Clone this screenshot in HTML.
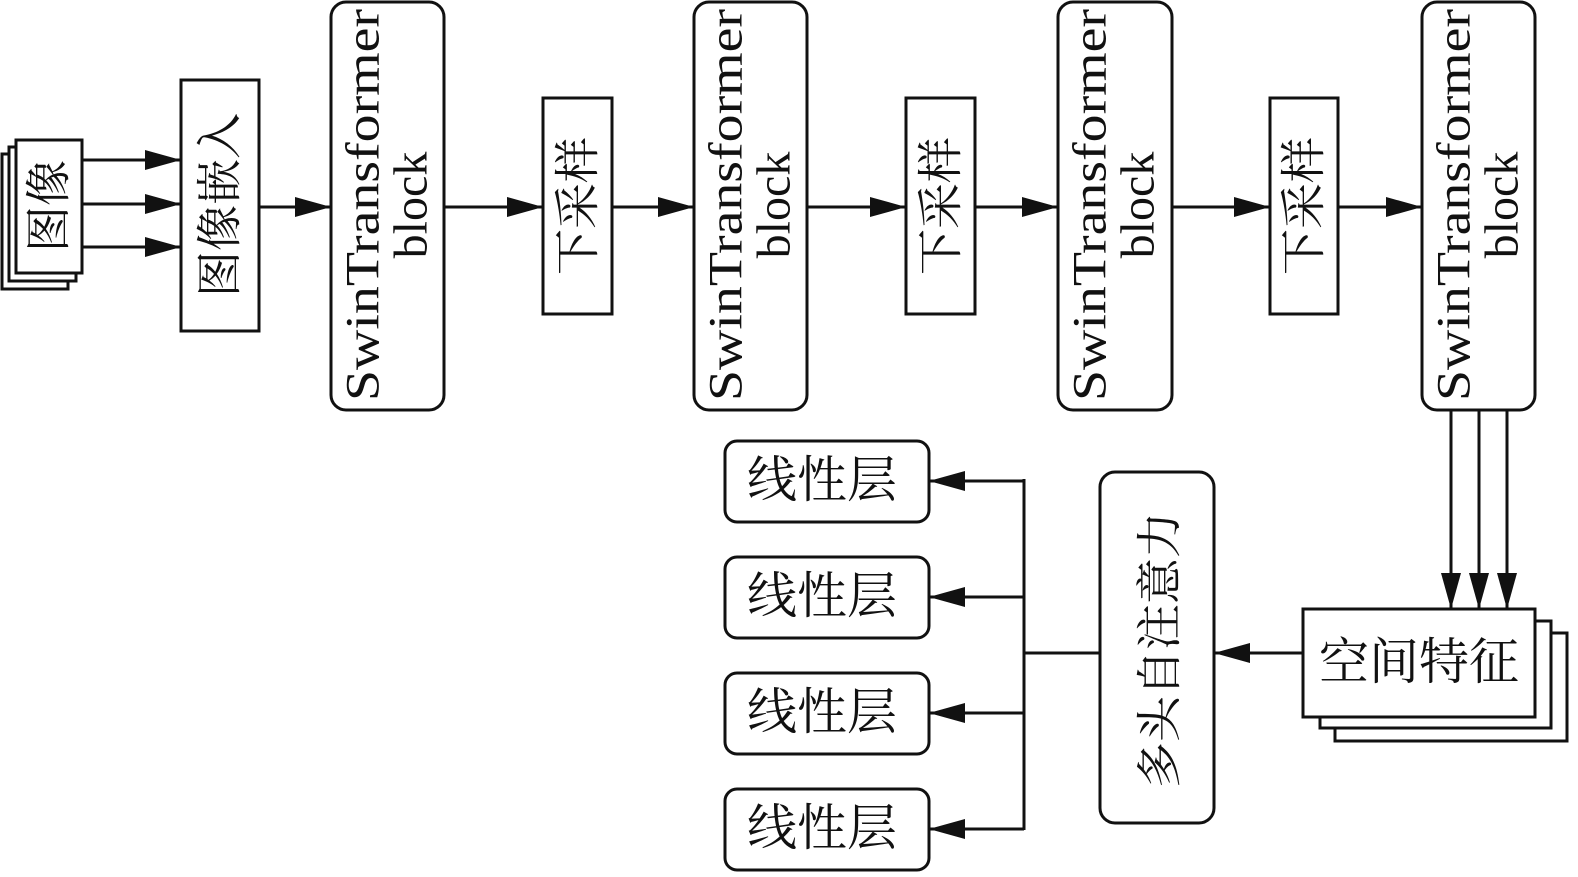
<!DOCTYPE html>
<html><head><meta charset="utf-8"><style>
html,body{margin:0;padding:0;background:#fff;}
svg{display:block;}
text{font-family:"Liberation Serif","Noto Serif CJK SC",serif;fill:#111;}
</style></head><body>
<svg width="1578" height="877" viewBox="0 0 1578 877" xmlns="http://www.w3.org/2000/svg">
<defs>
<marker id="a" markerWidth="36" markerHeight="20" refX="36" refY="10" orient="auto" markerUnits="userSpaceOnUse">
<path d="M0,0 L36,10 L0,20 Z" fill="#111"/>
</marker>
</defs>
<g stroke="#111" stroke-width="3" fill="#fff">
<!-- image stack -->
<rect x="2" y="154" width="66" height="135"/>
<rect x="9" y="147" width="67" height="134"/>
<rect x="16" y="140" width="66" height="133"/>
<!-- embed -->
<rect x="181" y="80" width="78" height="251"/>
<!-- swin blocks -->
<rect x="331" y="2" width="113" height="408" rx="15"/>
<rect x="694" y="2" width="113" height="408" rx="15"/>
<rect x="1058" y="2" width="114" height="408" rx="15"/>
<rect x="1422" y="2" width="113" height="408" rx="15"/>
<!-- downsample -->
<rect x="543" y="98" width="69" height="216"/>
<rect x="906" y="98" width="69" height="216"/>
<rect x="1270" y="98" width="68" height="216"/>
<!-- spatial -->
<rect x="1335" y="633" width="232" height="108"/>
<rect x="1320" y="621" width="231" height="107"/>
<rect x="1303" y="609" width="232" height="108"/>
<!-- attention -->
<rect x="1100" y="472" width="114" height="351" rx="15"/>
<!-- linear -->
<rect x="725" y="441" width="204" height="81" rx="12"/>
<rect x="725" y="557" width="204" height="81" rx="12"/>
<rect x="725" y="673" width="204" height="81" rx="12"/>
<rect x="725" y="789" width="204" height="81" rx="12"/>
</g>
<g stroke="#111" stroke-width="3" fill="none" marker-end="url(#a)">
<line x1="82" y1="160" x2="181" y2="160"/>
<line x1="82" y1="204" x2="181" y2="204"/>
<line x1="82" y1="247" x2="181" y2="247"/>
<line x1="259" y1="207" x2="331" y2="207"/>
<line x1="444" y1="207" x2="543" y2="207"/>
<line x1="612" y1="207" x2="694" y2="207"/>
<line x1="807" y1="207" x2="906" y2="207"/>
<line x1="975" y1="207" x2="1058" y2="207"/>
<line x1="1172" y1="207" x2="1270" y2="207"/>
<line x1="1338" y1="207" x2="1422" y2="207"/>
<line x1="1451" y1="410" x2="1451" y2="609"/>
<line x1="1479" y1="410" x2="1479" y2="609"/>
<line x1="1507" y1="410" x2="1507" y2="609"/>
<line x1="1303" y1="653" x2="1214" y2="653"/>
<line x1="1024" y1="481" x2="929" y2="481"/>
<line x1="1024" y1="597" x2="929" y2="597"/>
<line x1="1024" y1="713" x2="929" y2="713"/>
<line x1="1024" y1="829" x2="929" y2="829"/>
</g>
<g stroke="#111" stroke-width="3">
<line x1="1024" y1="479" x2="1024" y2="830"/>
<line x1="1024" y1="653" x2="1100" y2="653"/>
</g>
<g font-size="46" text-anchor="middle" dominant-baseline="central">
<text transform="translate(49,206) rotate(-90)">图像</text>
<text transform="translate(220,205) rotate(-90)">图像嵌入</text>
<text transform="translate(578,206) rotate(-90)">下采样</text>
<text transform="translate(941,206) rotate(-90)">下采样</text>
<text transform="translate(1304,206) rotate(-90)">下采样</text>
<text transform="translate(1160,650) rotate(-90)">多头自注意力</text>
<text x="1419" y="662" font-size="50">空间特征</text>
<text x="822" y="480" font-size="50">线性层</text>
<text x="822" y="596" font-size="50">线性层</text>
<text x="822" y="712" font-size="50">线性层</text>
<text x="822" y="828" font-size="50">线性层</text>
</g>
<g font-size="48" text-anchor="middle" dominant-baseline="central">
<text transform="translate(363,205) rotate(-90)" textLength="392" lengthAdjust="spacingAndGlyphs">SwinTransformer</text>
<text transform="translate(411,205) rotate(-90)">block</text>
<text transform="translate(726,205) rotate(-90)" textLength="392" lengthAdjust="spacingAndGlyphs">SwinTransformer</text>
<text transform="translate(774,205) rotate(-90)">block</text>
<text transform="translate(1090,205) rotate(-90)" textLength="392" lengthAdjust="spacingAndGlyphs">SwinTransformer</text>
<text transform="translate(1138,205) rotate(-90)">block</text>
<text transform="translate(1454,205) rotate(-90)" textLength="392" lengthAdjust="spacingAndGlyphs">SwinTransformer</text>
<text transform="translate(1502,205) rotate(-90)">block</text>
</g>
</svg>
</body></html>
